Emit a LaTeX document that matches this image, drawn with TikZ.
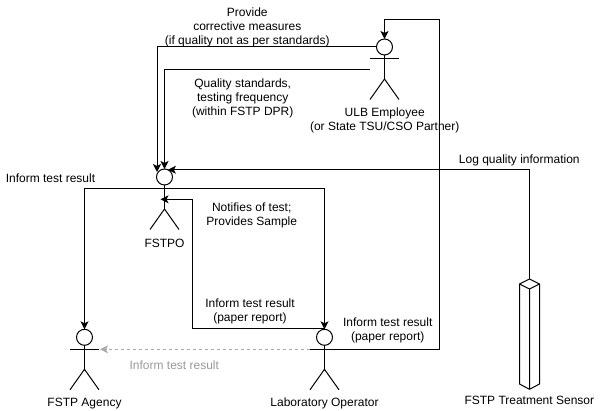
\documentclass[tikz,border=0pt]{standalone}
\usepackage{fontspec}
\setmainfont{Liberation Sans}
\usetikzlibrary{arrows.meta}
\definecolor{dashgray}{HTML}{AAAAAA}
\definecolor{labelgray}{HTML}{999999}
\tikzset{
  x=1pt,y=-1pt,
  every node/.style={inner sep=0pt,outer sep=0pt},
  lbl/.style={font=\fontsize{12}{14}\selectfont,align=center,text=black},
  glbl/.style={font=\fontsize{12}{14}\selectfont,align=center,text=labelgray},
  head/.style={circle,draw=black,line width=1pt,minimum size=16pt},
  stick/.style={draw=black,line width=1pt},
  conn/.style={draw=black,line width=1pt,-{Stealth[length=8pt,width=8pt,inset=2pt]}},
  dconn/.style={draw=dashgray,line width=1pt,dash pattern=on 3pt off 3pt,-{Stealth[length=8pt,width=8pt,inset=2pt]}},
}
\newcommand{\stickactor}[3]{% name, x, head y
  \node[head] (#1) at (#2,#3) {};
  \coordinate (#1armL) at (#2-14.5,#3+12);
  \coordinate (#1armR) at (#2+14.5,#3+12);
  \coordinate (#1hip) at (#2,#3+32);
  \coordinate (#1legL) at (#2-14.5,#3+52.5);
  \coordinate (#1legR) at (#2+14.5,#3+52.5);
  \draw[stick] (#1.south) -- (#1hip);
  \draw[stick] (#1armL) -- (#1armR);
  \draw[stick] (#1legL) -- (#1hip) -- (#1legR);
}
\begin{document}
\begin{tikzpicture}
\useasboundingbox (0,0) rectangle (600,411);
\stickactor{ulb}{384.5}{47}
\stickactor{fstpo}{164.5}{177}
\stickactor{agency}{84.5}{337.3}
\stickactor{lab}{324.5}{337.3}
% sensor
\coordinate (sT) at (529.5,279);
\coordinate (sL) at (519.5,284);
\coordinate (sR) at (539.5,284);
\coordinate (sF) at (529.5,289);
\coordinate (sBL) at (519.5,384);
\coordinate (sBR) at (539.5,384);
\coordinate (sB) at (529.5,389.3);
\draw[stick,line join=round] (sT) -- (sR) -- (sBR) -- (sB) -- (sBL) -- (sL) -- cycle;
\draw[stick,line join=round] (sL) -- (sF) -- (sR) (sF) -- (sB);
% waypoints
\coordinate (corrTip) at (157,172);
\coordinate (ulbTorso) at (370,69.5);
\coordinate (notifyTip) at (160.5,199.3);
\coordinate (reportCorner) at (192.7,328.3);
\coordinate (topCorner) at (439.5,19.3);
% connectors
\draw[conn] (ulb.west) -| (corrTip);
\draw[conn] (ulbTorso) -| (fstpo.north);
\draw[conn] (sT) |- (fstpo.65);
\draw[conn] (fstpoarmR) -| (lab.north);
\draw[conn] (fstpoarmL) -| (agency.north);
\draw[conn] (lab.north) |- (reportCorner) |- (notifyTip);
\draw[conn] (labarmR) -| (topCorner) -| (ulb.north);
\draw[dconn] (labarmL) -- ([xshift=1pt]agencyarmR);
% labels
\node[lbl] (t1) at (247.3,27) {Provide\\corrective measures\\(if quality not as per standards)};
\node[lbl] (t2) at (242.7,98) {Quality standards,\\testing frequency\\ (within FSTP DPR)};
\node[lbl] (t3) at (384.7,120.5) {ULB Employee\\(or State TSU/CSO Partner)};
\node[lbl] (t4) at (251.7,215.5) {Notifies of test;\\Provides Sample};
\node[lbl] (t5) at (164.5,243.5) {FSTPO};
\node[lbl] (t6) at (519.3,160) {Log quality information};
\node[lbl] (t7) at (50.5,178.5) {Inform test result};
\node[lbl] (t8) at (250,311.5) {Inform test result\\(paper report)};
\node[lbl] (t9) at (387.7,330.5) {Inform test result\\(paper report)};
\node[glbl] (t10) at (174.3,365.5) {Inform test result};
\node[lbl] (t11) at (84.5,403.5) {FSTP Agency};
\node[lbl] (t12) at (324.5,403.5) {Laboratory Operator};
\node[lbl] (t13) at (529.3,400) {FSTP Treatment Sensor};
\end{tikzpicture}
\end{document}
